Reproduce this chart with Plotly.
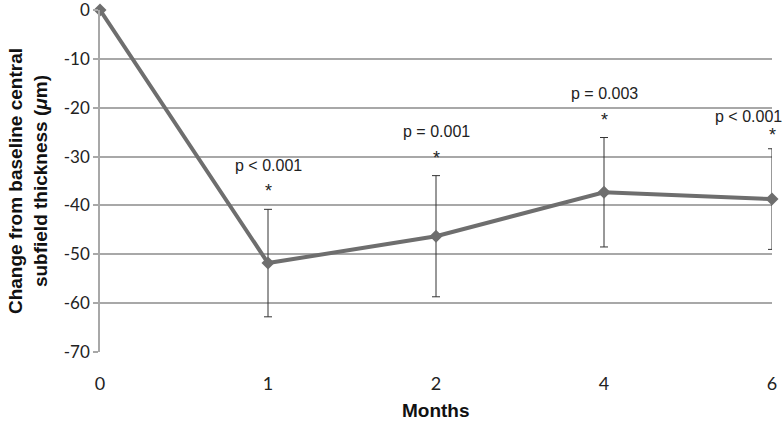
import plotly.graph_objects as go

months = ["0", "1", "2", "4", "6"]
change = [0, -51.8, -46.3, -37.3, -38.7]
err = [0, 11.0, 12.4, 11.2, 10.3]
p_labels = ["", "p < 0.001", "p = 0.001", "p = 0.003", "p < 0.001"]
y_ticks = [0, -10, -20, -30, -40, -50, -60, -70]

xs = list(range(len(months)))

fig = go.Figure()
fig.add_trace(go.Scatter(
    x=xs, y=change, mode="lines+markers",
    line=dict(color="#6e6e6e", width=4),
    marker=dict(symbol="diamond", size=10, color="#6e6e6e"),
    error_y=dict(type="data", array=[e if e else None for e in err], visible=True,
                 color="#333333", thickness=1, width=4),
    showlegend=False, cliponaxis=False,
))

annots = []
for i in range(1, len(months)):
    top = change[i] + err[i]
    last = i == len(months) - 1
    annots.append(dict(x=xs[i], y=top, text="*", showarrow=False,
                       yshift=(14 if last else 18), yanchor="middle",
                       font=dict(family="Liberation Sans, Arial", size=18, color="#222")))
    annots.append(dict(x=xs[i], y=top, text=p_labels[i], showarrow=False,
                       yshift=(32 if last else 44), yanchor="middle",
                       xshift=(-24 if last else 0),
                       font=dict(family="Liberation Sans, Arial", size=16, color="#222")))

annots.append(dict(xref="paper", yref="paper", x=-0.107, y=0.5,
                   text="<b>Change from baseline central<br>subfield thickness (<i>μ</i>m)</b>",
                   textangle=-90, showarrow=False, xanchor="center", yanchor="middle",
                   font=dict(family="Liberation Sans, Arial", size=19, color="#111")))
annots.append(dict(xref="paper", yref="paper", x=0.5, y=-0.17,
                   text="<b>Months</b>", showarrow=False, xanchor="center", yanchor="middle",
                   font=dict(family="Liberation Sans Narrow, Liberation Sans, Arial", size=19, color="#111")))

fig.update_layout(
    width=784, height=421,
    margin=dict(l=100, r=12, t=10, b=69),
    paper_bgcolor="white", plot_bgcolor="white",
    annotations=annots,
    xaxis=dict(
        tickmode="array", tickvals=xs, ticktext=months,
        range=[0, len(months) - 1], showgrid=False, zeroline=False,
        showline=False, ticks="", automargin=False, ticklabelstandoff=19,
        ticklabeloverflow="allow",
        tickfont=dict(family="Lato, Liberation Sans", size=18, color="#222"),
    ),
    yaxis=dict(
        range=[-70, 0], tickvals=y_ticks, ticktext=[str(v) for v in y_ticks],
        showgrid=True, gridcolor="#a8a8a8", gridwidth=1.5, automargin=False,
        zeroline=False, showline=True, linecolor="#a8a8a8", linewidth=1.5,
        ticks="outside", ticklen=5, tickcolor="#a8a8a8", tickwidth=1.5,
        ticklabeloverflow="allow",
        tickfont=dict(family="Lato, Liberation Sans", size=17, color="#222"),
    ),
)

fig.write_html("out.html", config={"displayModeBar": False},
               post_script="document.body.style.margin='0';")
